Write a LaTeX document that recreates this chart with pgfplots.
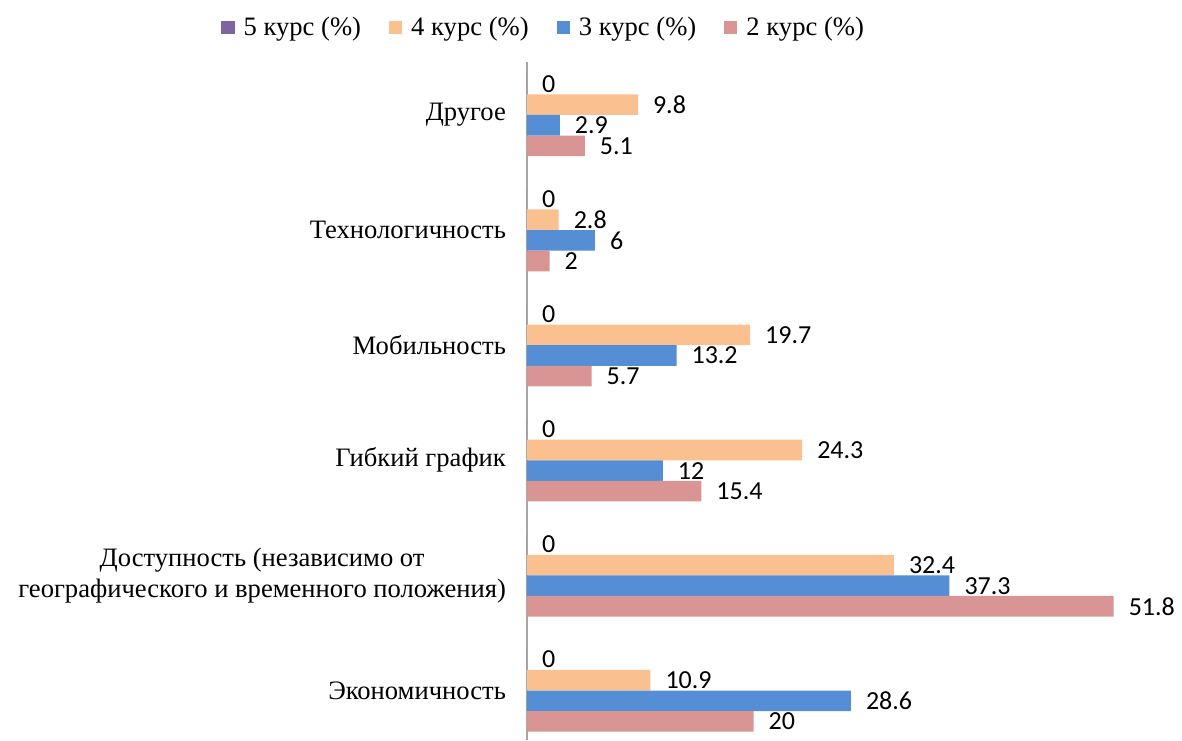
\documentclass[border=0pt]{standalone}
\usepackage{pgfplots}
\pgfplotsset{compat=1.18}
\usepackage{fontspec}
\setmainfont{Liberation Serif}
\newfontfamily\carlito{Carlito}
\definecolor{c5}{HTML}{8064A2}
\definecolor{c4}{HTML}{FAC090}
\definecolor{c3}{HTML}{558ED5}
\definecolor{c2}{HTML}{D99594}
\definecolor{axgray}{HTML}{A6A6A6}
\begin{document}
\begin{tikzpicture}
\begin{axis}[
  name=ax,
  scale only axis,
  width=294.5pt, height=339pt,
  xmin=0, xmax=52,
  ymin=-0.43, ymax=5.46,
  xbar, bar width=10.3pt,
  axis x line=none,
  axis y line*=left,
  y axis line style={axgray, line width=1pt, -},
  ytick={0,1,2,3,4,5},
  yticklabels={Экономичность,{Доступность (независимо от\\географического и временного положения)},Гибкий график,Мобильность,Технологичность,Другое},
  yticklabel style={align=center, font=\fontsize{13.3}{15.5}\selectfont, xshift=-7pt},
  major tick length=0pt,
  clip=false,
  nodes near coords,
  every node near coord/.append style={font=\carlito\fontsize{13}{15}\selectfont, anchor=west, xshift=4pt, /pgf/number format/assume math mode=true, text=black},
  legend style={at={(axis description cs:0.03,1.050)}, anchor=center, draw=none, legend columns=4, font=\fontsize{13.3}{15.5}\selectfont, /tikz/every odd column/.style={column sep=2.5pt}, /tikz/every even column/.style={column sep=12pt}},
  legend image code/.code={\fill[#1] (0pt,-3.1pt) rectangle (6.6pt,3.5pt);},
]
\addplot[fill=c5, draw=none, bar shift=15.45pt] coordinates {(0,0) (0,1) (0,2) (0,3) (0,4) (0,5)};
\addlegendentry{5 курс (\%)}
\addplot[fill=c4, draw=none, bar shift=5.15pt] coordinates {(10.9,0) (32.4,1) (24.3,2) (19.7,3) (2.8,4) (9.8,5)};
\addlegendentry{4 курс (\%)}
\addplot[fill=c3, draw=none, bar shift=-5.15pt] coordinates {(28.6,0) (37.3,1) (12,2) (13.2,3) (6,4) (2.9,5)};
\addlegendentry{3 курс (\%)}
\addplot[fill=c2, draw=none, bar shift=-15.45pt] coordinates {(20,0) (51.8,1) (15.4,2) (5.7,3) (2,4) (5.1,5)};
\addlegendentry{2 курс (\%)}
\end{axis}
\pgfresetboundingbox
\path[use as bounding box] ([xshift=-263.5pt]ax.south west) rectangle ++(591pt,370pt);
\end{tikzpicture}
\end{document}
